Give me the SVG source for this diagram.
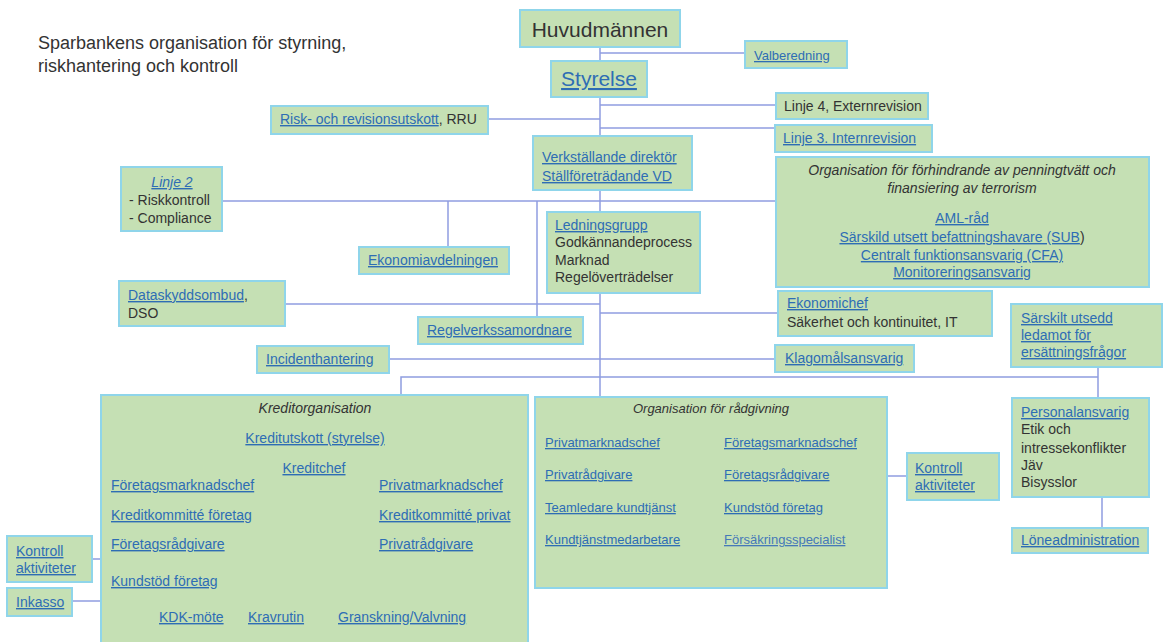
<svg xmlns="http://www.w3.org/2000/svg" width="1163" height="642" viewBox="0 0 1163 642">
<style>
.box{fill:#c5e0b4;stroke:#8fd5ea;stroke-width:2}
.t{font-family:"Liberation Sans",Arial,sans-serif;font-size:14px;fill:#333}
.s13{font-size:13px}
.l{fill:#2e6db4;text-decoration:underline}
.i{font-style:italic}
.m{text-anchor:middle}
.c{stroke:#8f9de0;stroke-width:1.5;fill:none}
</style>
<rect width="1163" height="642" fill="#fff"/>
<g id="title">
<text class="t" x="38" y="49" style="font-size:18px">Sparbankens organisation för styrning,</text>
<text class="t" x="38" y="72" style="font-size:18px">riskhantering och kontroll</text>
</g>
<g id="connectors">
<path class="c" d="M600,47 V396"/>
<path class="c" d="M600,53 H745"/>
<path class="c" d="M600,105 H776"/>
<path class="c" d="M488,119 H600"/>
<path class="c" d="M600,128 H775"/>
<path class="c" d="M222,201 H776"/>
<path class="c" d="M448,201 V247"/>
<path class="c" d="M537,201 V317"/>
<path class="c" d="M285,304 H600"/>
<path class="c" d="M600,313 H778"/>
<path class="c" d="M389,359 H775"/>
<path class="c" d="M401,395 V377 H1098"/>
<path class="c" d="M1098,367 V398"/>
<path class="c" d="M1102,497 V528"/>
<path class="c" d="M887,476 H907"/>
<path class="c" d="M92,559 H101"/>
<path class="c" d="M72,601 H101"/>
</g>
<g id="huvudmannen"><rect class="box" x="520" y="10" width="160" height="37"/><text class="t m" x="600" y="37" style="font-size:21px">Huvudmännen</text></g>
<g id="valberedning"><rect class="box" x="745" y="41" width="102" height="27"/><text class="t l s13" x="754" y="60">Valberedning</text></g>
<g id="styrelse"><rect class="box" x="551" y="61" width="96" height="36"/><text class="t l m" x="599" y="86" style="font-size:21px">Styrelse</text></g>
<g id="linje4"><rect class="box" x="776" y="93" width="152" height="26"/><text class="t" x="784" y="111">Linje 4, Externrevision</text></g>
<g id="rru"><rect class="box" x="271" y="106" width="217" height="28"/><text class="t" x="280" y="124"><tspan class="l">Risk- och revisionsutskott</tspan>, RRU</text></g>
<g id="linje3"><rect class="box" x="775" y="125" width="157" height="27"/><text class="t l" x="783" y="143">Linje 3. Internrevision</text></g>
<g id="vd"><rect class="box" x="533" y="136" width="159" height="54"/><text class="t l" x="542" y="162">Verkställande direktör</text><text class="t l" x="542" y="181">Ställföreträdande VD</text></g>
<g id="aml"><rect class="box" x="776" y="157" width="373" height="130"/>
<text class="t i m" x="962" y="175">Organisation för förhindrande av penningtvätt och</text>
<text class="t i m" x="962" y="193">finansiering av terrorism</text>
<text class="t l m" x="962" y="223">AML-råd</text>
<text class="t m" x="962" y="242"><tspan class="l">Särskild utsett befattningshavare (SUB</tspan>)</text>
<text class="t l m" x="962" y="260">Centralt funktionsansvarig (CFA)</text>
<text class="t l m" x="962" y="277">Monitoreringsansvarig</text></g>
<g id="linje2"><rect class="box" x="121" y="167" width="101" height="64"/><text class="t l i m" x="172" y="187">Linje 2</text><text class="t" x="129" y="205">- Riskkontroll</text><text class="t" x="129" y="223">- Compliance</text></g>
<g id="ekonomiavdelningen"><rect class="box" x="359" y="247" width="150" height="27"/><text class="t l" x="368" y="265">Ekonomiavdelningen</text></g>
<g id="ledningsgrupp"><rect class="box" x="547" y="212" width="153" height="81"/><text class="t l" x="555" y="230">Ledningsgrupp</text><text class="t" x="555" y="247">Godkännandeprocess</text><text class="t" x="555" y="265">Marknad</text><text class="t" x="555" y="282">Regelöverträdelser</text></g>
<g id="dataskyddsombud"><rect class="box" x="119" y="281" width="166" height="45"/><text class="t" x="128" y="300"><tspan class="l">Dataskyddsombud</tspan>,</text><text class="t" x="128" y="318">DSO</text></g>
<g id="regelverkssamordnare"><rect class="box" x="418" y="317" width="165" height="27"/><text class="t l" x="427" y="335">Regelverkssamordnare</text></g>
<g id="ekonomichef"><rect class="box" x="778" y="291" width="214" height="45"/><text class="t l" x="787" y="308">Ekonomichef</text><text class="t" x="787" y="327">Säkerhet och kontinuitet, IT</text></g>
<g id="sarskilt"><rect class="box" x="1011" y="304" width="151" height="63"/><text class="t l" x="1021" y="323">Särskilt utsedd</text><text class="t l" x="1021" y="340">ledamot för</text><text class="t l" x="1021" y="357">ersättningsfrågor</text></g>
<g id="incidenthantering"><rect class="box" x="257" y="346" width="132" height="27"/><text class="t l" x="266" y="364">Incidenthantering</text></g>
<g id="klagomalsansvarig"><rect class="box" x="775" y="345" width="139" height="27"/><text class="t l" x="785" y="363">Klagomålsansvarig</text></g>
<g id="kreditorganisation"><rect class="box" x="101" y="395" width="427" height="260"/>
<text class="t i m" x="315" y="413">Kreditorganisation</text>
<text class="t l m" x="315" y="443">Kreditutskott (styrelse)</text>
<text class="t l m" x="314" y="473">Kreditchef</text>
<text class="t l" x="111" y="490">Företagsmarknadschef</text>
<text class="t l" x="111" y="520">Kreditkommitté företag</text>
<text class="t l" x="111" y="549">Företagsrådgivare</text>
<text class="t l" x="111" y="586">Kundstöd företag</text>
<text class="t l" x="379" y="490">Privatmarknadschef</text>
<text class="t l" x="379" y="520">Kreditkommitté privat</text>
<text class="t l" x="379" y="549">Privatrådgivare</text>
<text class="t l" x="159" y="622">KDK-möte</text>
<text class="t l" x="248" y="622">Kravrutin</text>
<text class="t l" x="338" y="622">Granskning/Valvning</text></g>
<g id="radgivning"><rect class="box" x="535" y="397" width="352" height="191"/>
<text class="t i m s13" x="711" y="413">Organisation för rådgivning</text>
<text class="t l s13" x="545" y="447">Privatmarknadschef</text>
<text class="t l s13" x="545" y="479">Privatrådgivare</text>
<text class="t l s13" x="545" y="512">Teamledare kundtjänst</text>
<text class="t l s13" x="545" y="544">Kundtjänstmedarbetare</text>
<text class="t l s13" x="724" y="447">Företagsmarknadschef</text>
<text class="t l s13" x="724" y="479">Företagsrådgivare</text>
<text class="t l s13" x="724" y="512">Kundstöd företag</text>
<text class="t l s13" x="724" y="544" style="fill:#4679b8">Försäkringsspecialist</text></g>
<g id="kontroll-right"><rect class="box" x="907" y="453" width="92" height="47"/><text class="t l" x="915" y="473">Kontroll</text><text class="t l" x="915" y="490">aktiviteter</text></g>
<g id="personalansvarig"><rect class="box" x="1012" y="398" width="137" height="99"/><text class="t l" x="1021" y="417">Personalansvarig</text><text class="t" x="1021" y="434">Etik och</text><text class="t" x="1021" y="453">intressekonflikter</text><text class="t" x="1021" y="470">Jäv</text><text class="t" x="1021" y="487">Bisysslor</text></g>
<g id="loneadministration"><rect class="box" x="1012" y="528" width="136" height="25"/><text class="t l" x="1021" y="545">Löneadministration</text></g>
<g id="kontroll-left"><rect class="box" x="7" y="536" width="85" height="46"/><text class="t l" x="16" y="556">Kontroll</text><text class="t l" x="16" y="573">aktiviteter</text></g>
<g id="inkasso"><rect class="box" x="7" y="588" width="65" height="28"/><text class="t l" x="16" y="607">Inkasso</text></g>
</svg>
